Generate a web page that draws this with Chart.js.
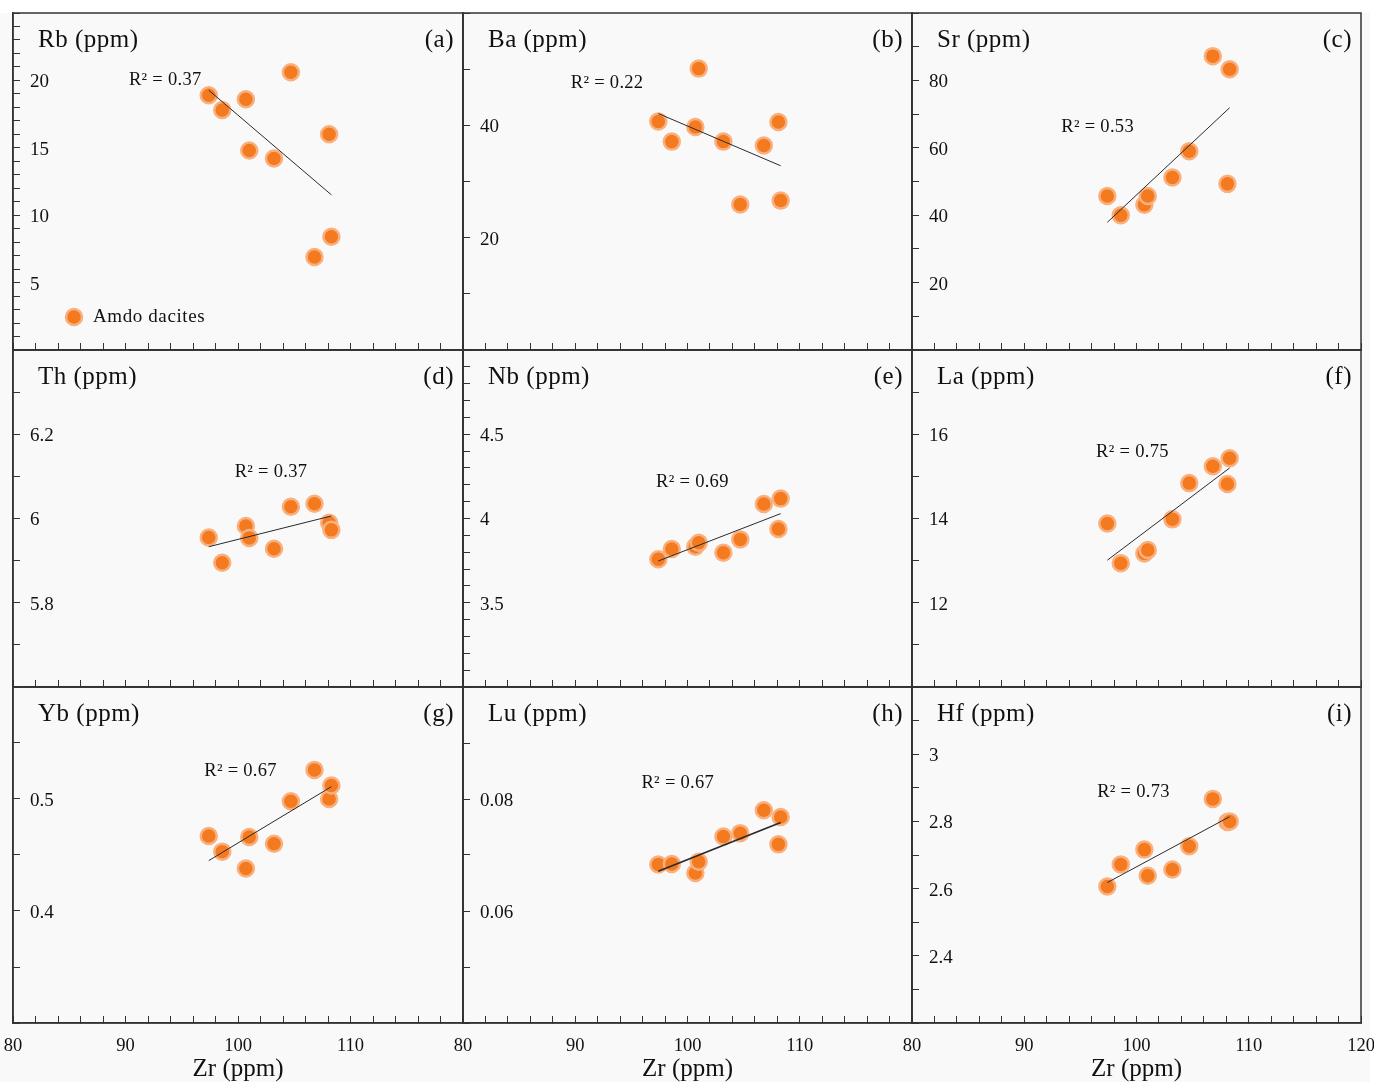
<!DOCTYPE html>
<html><head><meta charset="utf-8">
<script src="https://cdn.jsdelivr.net/npm/chart.js@4.4.1/dist/chart.umd.min.js"></script>
<style>
html,body{margin:0;padding:0;background:#fff}
body{width:1376px;height:1082px;position:relative;overflow:hidden}
#bg{position:absolute;left:0;top:13px;width:1370px;height:1069px;background:#f9f9f9}
.cv{position:absolute}
</style></head>
<body><div id="bg"></div>
<script>
// ---------------- data ----------------
const zr = [97.4, 98.6, 100.7, 101.0, 103.2, 104.7, 106.8, 108.1, 108.3];
const rb = [18.9, 17.8, 18.6, 14.8, 14.2, 20.6, 6.9, 16.0, 8.4];
const ba = [40.7, 37.1, 39.7, 50.1, 37.1, 25.9, 36.4, 40.6, 26.6];
const sr = [45.7, 40.0, 43.1, 45.7, 51.2, 59.0, 87.2, 49.3, 83.3];
const th = [5.955, 5.895, 5.982, 5.954, 5.928, 6.028, 6.035, 5.990, 5.973];
const nb = [3.758, 3.819, 3.833, 3.856, 3.797, 3.876, 4.086, 3.938, 4.118];
const la = [13.88, 12.94, 13.17, 13.25, 13.98, 14.84, 15.24, 14.82, 15.43];
const yb = [0.467, 0.453, 0.438, 0.466, 0.460, 0.498, 0.526, 0.500, 0.512];
const lu = [0.0683, 0.0684, 0.0668, 0.0688, 0.0733, 0.0739, 0.0780, 0.0719, 0.0768];
const hf = [2.606, 2.672, 2.716, 2.638, 2.657, 2.726, 2.867, 2.798, 2.800];

const elementNames = ['Rb', 'Ba', 'Sr', 'Th', 'Nb', 'La', 'Yb', 'Lu', 'Hf'];
const seriesValues = [rb, ba, sr, th, nb, la, yb, lu, hf];
const panelTags = ['(a)', '(b)', '(c)', '(d)', '(e)', '(f)', '(g)', '(h)', '(i)'];
const r2Labels = ['R\u00B2 = 0.37', 'R\u00B2 = 0.22', 'R\u00B2 = 0.53', 'R\u00B2 = 0.37', 'R\u00B2 = 0.69',
                  'R\u00B2 = 0.75', 'R\u00B2 = 0.67', 'R\u00B2 = 0.67', 'R\u00B2 = 0.73'];
const r2AnchorX = [90.3, 89.6, 93.3, 99.7, 97.2, 96.4, 97.0, 95.9, 96.5];
const r2AnchorY = [20.0, 47.5, 66.1, 6.111, 4.217, 15.58, 0.525, 0.0829, 2.8875];
const trendX = [97.4, 108.3];
const trendYStart = [19.27, 42.1, 37.9, 5.933, 3.748, 13.01, 0.445, 0.0671, 2.618];
const trendYEnd   = [11.51, 32.8, 71.9, 6.006, 4.029, 15.20, 0.511, 0.0758, 2.814];
const yAxisMin = [0, 0, 0, 5.6, 3, 10, 0.3, 0.04, 2.2];
const yAxisMax = [25, 60, 100, 6.4, 5, 18, 0.6, 0.1, 3.2];
const yTickStep = [1, 10, 10, 0.1, 0.1, 1, 0.05, 0.01, 0.1];
const yLabelStep = [5, 20, 20, 0.2, 0.5, 2, 0.1, 0.02, 0.2];
const xAxisMin = 80, xAxisMax = 120, xTickStep = 2, xLabelStep = 10;
const xTitle = 'Zr (ppm)';
const legendLabel = 'Amdo dacites';

// ---------------- layout / style ----------------
const colLeft = [13, 463, 912], colRight = [463, 912, 1361];
const rowTop = [13, 350, 687], rowBottom = [350, 687, 1023];
const FONT = '"Liberation Serif", "Times New Roman", serif';
const PT_FILL = '#f47a1f', PT_EDGE = '#f9b07e';
const PAD = 13, XAXIS_H = 59;

function tickList(min, max, step) {
  const n = Math.round((max - min) / step);
  const out = [];
  for (let i = 0; i <= n; i++) out.push(+(min + i * step).toFixed(6));
  return out;
}
function isMultiple(v, s) { const q = v / s; return Math.abs(q - Math.round(q)) < 1e-6; }
function fmt(v) { return String(parseFloat(v.toFixed(6))); }
function zeroPad(s) { s.paddingLeft = 0; s.paddingRight = 0; s.paddingTop = 0; s.paddingBottom = 0; }

const panelDecor = {
  id: 'panelDecor',
  afterDraw(chart, args, p) {
    const {ctx, chartArea: a, scales} = chart;
    ctx.save();
    ctx.strokeStyle = '#333'; ctx.lineWidth = 1.5;
    ctx.strokeRect(a.left, a.top, a.right - a.left, a.bottom - a.top);
    ctx.fillStyle = '#111';
    ctx.textBaseline = 'middle';
    ctx.font = '25px ' + FONT;
    try { ctx.letterSpacing = '0.5px'; } catch (e) {}
    ctx.textAlign = 'left';
    ctx.fillText(p.title, a.left + 25, a.top + 27);
    ctx.textAlign = 'right';
    ctx.fillText(p.tag, a.right - 9, a.top + 27);
    try { ctx.letterSpacing = '0.3px'; } catch (e) {}
    ctx.font = '18.5px ' + FONT;
    ctx.textAlign = 'left';
    ctx.fillText(p.r2, scales.x.getPixelForValue(p.r2x), scales.y.getPixelForValue(p.r2y));
    if (p.legend) {
      const cx = a.left + 61, cy = a.top + 304;
      ctx.beginPath(); ctx.arc(cx, cy, 8, 0, Math.PI * 2);
      ctx.fillStyle = PT_FILL; ctx.fill();
      ctx.lineWidth = 2.5; ctx.strokeStyle = PT_EDGE; ctx.stroke();
      ctx.fillStyle = '#111';
      ctx.font = '19px ' + FONT;
      try { ctx.letterSpacing = '0.6px'; } catch (e) {}
      ctx.fillText(p.legend, a.left + 80, cy);
    }
    ctx.restore();
  }
};

const xTickVals = tickList(xAxisMin, xAxisMax, xTickStep);

for (let i = 0; i < 9; i++) {
  const row = Math.floor(i / 3), col = i % 3;
  const bottomRow = row === 2;
  const pw = colRight[col] - colLeft[col], ph = rowBottom[row] - rowTop[row];
  const W = pw + 2 * PAD, H = ph + 2 * PAD + (bottomRow ? XAXIS_H : 0);
  const cv = document.createElement('canvas');
  cv.className = 'cv';
  cv.width = W; cv.height = H;
  cv.style.left = (colLeft[col] - PAD) + 'px';
  cv.style.top = (rowTop[row] - PAD) + 'px';
  cv.style.width = W + 'px'; cv.style.height = H + 'px';
  document.body.appendChild(cv);

  const yTickVals = tickList(yAxisMin[i], yAxisMax[i], yTickStep[i]);
  const vals = seriesValues[i];

  new Chart(cv.getContext('2d'), {
    type: 'scatter',
    data: {
      datasets: [
        {
          type: 'line',
          data: [{x: trendX[0], y: trendYStart[i]}, {x: trendX[1], y: trendYEnd[i]}],
          showLine: true, borderColor: '#2a2a2a', borderWidth: i === 7 ? 1.8 : 1,
          pointRadius: 0, fill: false, tension: 0
        },
        {
          data: zr.map((x, k) => ({x: x, y: vals[k]})),
          backgroundColor: PT_FILL, borderColor: PT_EDGE, borderWidth: 2.5,
          pointRadius: 8, pointHoverRadius: 8
        }
      ]
    },
    options: {
      responsive: false, animation: false, events: [],
      layout: {autoPadding: false, padding: {left: PAD, right: PAD, top: PAD, bottom: PAD}},
      plugins: {
        legend: {display: false}, tooltip: {enabled: false},
        panelDecor: {
          title: elementNames[i] + ' (ppm)', tag: panelTags[i], r2: r2Labels[i],
          r2x: r2AnchorX[i], r2y: r2AnchorY[i], legend: i === 0 ? legendLabel : null
        }
      },
      scales: {
        x: {
          type: 'linear', position: 'bottom', min: xAxisMin, max: xAxisMax,
          afterBuildTicks: s => { s.ticks = xTickVals.map(v => ({value: v})); },
          afterFit: s => { s.height = bottomRow ? XAXIS_H : 0; zeroPad(s); },
          ticks: {
            autoSkip: false, maxRotation: 0, minRotation: 0, padding: 19,
            color: '#111', font: {family: FONT, size: 18.5},
            callback: v => {
              if (!bottomRow) return '';
              if (!isMultiple(v, xLabelStep)) return '';
              if (v === xAxisMax && col !== 2) return '';
              return fmt(v);
            }
          },
          grid: {drawOnChartArea: false, drawTicks: true, tickLength: -7, tickColor: '#333', tickWidth: 1},
          border: {display: true, color: '#333', width: 1.5},
          title: {
            display: bottomRow, text: xTitle, color: '#111',
            font: {family: FONT, size: 25, lineHeight: 1}, padding: {top: 0, bottom: 0}
          }
        },
        y: {
          type: 'linear', position: 'left', min: yAxisMin[i], max: yAxisMax[i],
          afterBuildTicks: s => { s.ticks = yTickVals.map(v => ({value: v})); },
          afterFit: s => { s.width = 0; zeroPad(s); },
          ticks: {
            mirror: true, padding: 17, autoSkip: false, labelOffset: 2,
            color: '#111', font: {family: FONT, size: 19},
            callback: v => {
              if (Math.abs(v - yAxisMin[i]) < 1e-9 || Math.abs(v - yAxisMax[i]) < 1e-9) return '';
              return isMultiple(v, yLabelStep[i]) ? fmt(v) : '';
            }
          },
          grid: {drawOnChartArea: false, drawTicks: true, tickLength: -7, tickColor: '#333', tickWidth: 1},
          border: {display: true, color: '#333', width: 1.5}
        }
      }
    },
    plugins: [panelDecor]
  });
}
</script>
</body></html>
